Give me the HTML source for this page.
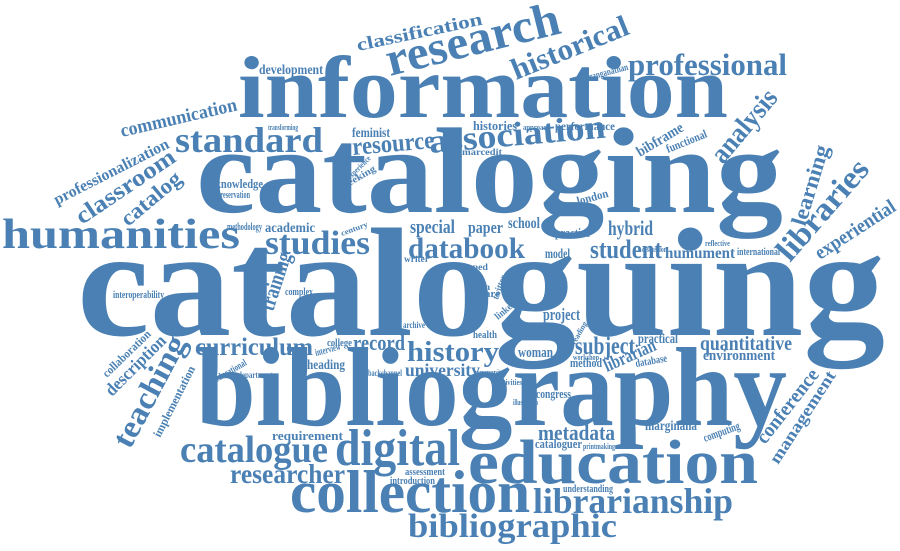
<!DOCTYPE html>
<html><head><meta charset="utf-8"><style>
html,body{margin:0;padding:0;background:#fff;width:900px;height:551px;overflow:hidden}
svg text{font-family:"Liberation Serif",serif;font-weight:bold;fill:#4a80b3}
</style></head><body>
<svg width="900" height="551" viewBox="0 0 900 551" xmlns="http://www.w3.org/2000/svg">
<g id="words"></g>
</svg>
<script>
// word, x, y (baseline), font size, target width, rotation
const words = ["cataloguing","cataloging","information","bibliography","education","collection","digital","humanities","catalogue","librarianship","bibliographic","researcher","standard","association","resource","professional","research","historical","classification","studies","databook","student","hybrid","history","curriculum","subject","quantitative","metadata","development","record","university","practical","environment","marginalia","woman","project","special","paper","school","communication","professionalization","classroom","catalog","analysis","libraries","learning","experiential","teaching","description","management","conference","training","librarian","knowledge","academic","feminist","histories","performance","bibframe","functional","ranganathan","preservation","london","practice","model","heading","congress","cataloguer","computing","assessment","introduction","understanding","requirement","implementation","collaboration","interoperability","health","humument","international","method","database","interview","college","educational","department","backchannel","complex","methodology","printmaking","marcedit","transforming","seeking","writer","flipped","open","rare","twitter","linked","archive","reading","workshop","important","community","activities","illustration","experience","century","approach","reflective","discussion"];
const xs   = [77,196,238,196,468,290,335,2,180,533,408,230,175,430,353,628,390,516,358,265,408,590,608,407,195,575,700,538,259,353,405,638,703,645,518,543,410,468,508,122,57,82,128,723,790,805,820,130,112,778,765,273,607,215,265,352,473,555,640,668,590,217,578,555,545,307,536,535,705,405,390,563,272,160,107,113,473,665,737,570,636,316,327,217,238,368,285,227,583,462,268,346,404,458,470,480,498,498,403,575,573,523,474,497,513,350,342,523,705,642];
const ys   = [335,212,117,425,483,512,465,248,462,513,537,483,152,153,155,75,76,80,51,254,258,258,235,361,355,354,350,440,74,350,376,343,360,430,357,320,233,233,228,137,205,225,227,165,263,227,260,450,397,465,445,312,372,188,232,137,130,130,157,153,80,198,205,237,258,369,398,448,442,475,484,492,440,438,378,298,338,258,255,367,367,356,346,382,378,376,295,230,449,155,130,188,262,270,290,297,300,320,328,345,360,365,375,385,405,180,236,130,246,252];
const sizes= [155,122,88,112,62,60,52,42,38,36,34,27,36,34,25,31,48,30,18,34,30,26,21,29,25,25,20,22,14,22,18,14,15,14,15,17,19,17,16,19,16,24,22,28,32,22,20,32,18,17,20,22,19,13,14,14,13,12,15,12,10,10,12,13,14,14,13,13,12,11,11,11,13,12,12,10,11,16,10,13,11,10,10,10,9,9,10,10,8,9,8,10,9,9,9,10,10,10,9,8,8,8,8,8,8,8,8,8,8,8];
const widths=[808,587,490,591,290,240,125,238,148,200,209,115,148,177,82,159,178,124,128,105,117,72,45,92,118,60,92,77,64,52,75,40,72,52,35,37,45,35,32,119,127,115,72,87,123,83,92,122,78,107,89,60,55,48,50,38,44,60,52,43,40,33,32,35,25,38,35,47,38,40,45,50,71,78,62,51,24,70,43,32,32,26,25,35,35,34,28,35,32,40,30,35,25,30,20,20,25,24,22,25,26,25,30,25,25,30,28,27,25,25];
const rots = [0,0,0,0,0,0,0,0,0,0,0,0,0,-5,-5,0,-14,-22,-12,0,0,0,0,0,0,0,0,0,0,0,0,0,0,0,0,0,0,0,0,-13,-27,-34,-40,-50,-49,-73,-33,-62,-45,-57,-52,-72,-24,0,0,0,0,0,-31,-22,-15,0,-15,0,0,0,0,0,-20,0,0,0,0,-63,-44,0,0,0,0,0,-10,-15,0,-30,0,0,0,0,0,0,0,-30,0,0,0,0,-70,-40,0,-60,0,0,0,0,0,-45,-20,0,0,0];
const g = document.getElementById('words');
const NS = 'http://www.w3.org/2000/svg';
const seen = {};
for (let i = 0; i < words.length; i++) {
  const t = document.createElementNS(NS, 'text');
  t.setAttribute('x', xs[i]);
  t.setAttribute('y', ys[i]);
  t.setAttribute('font-size', sizes[i]);
  t.setAttribute('textLength', widths[i]);
  t.setAttribute('lengthAdjust', 'spacingAndGlyphs');
  if (rots[i]) t.setAttribute('transform', 'rotate(' + rots[i] + ' ' + xs[i] + ' ' + ys[i] + ')');
  t.textContent = words[i];
  const n = words[i] + (seen[words[i]] ? '-' + (seen[words[i]] + 1) : '');
  seen[words[i]] = (seen[words[i]] || 0) + 1;
  
  
  g.appendChild(t);
}
</script>
</body></html>
